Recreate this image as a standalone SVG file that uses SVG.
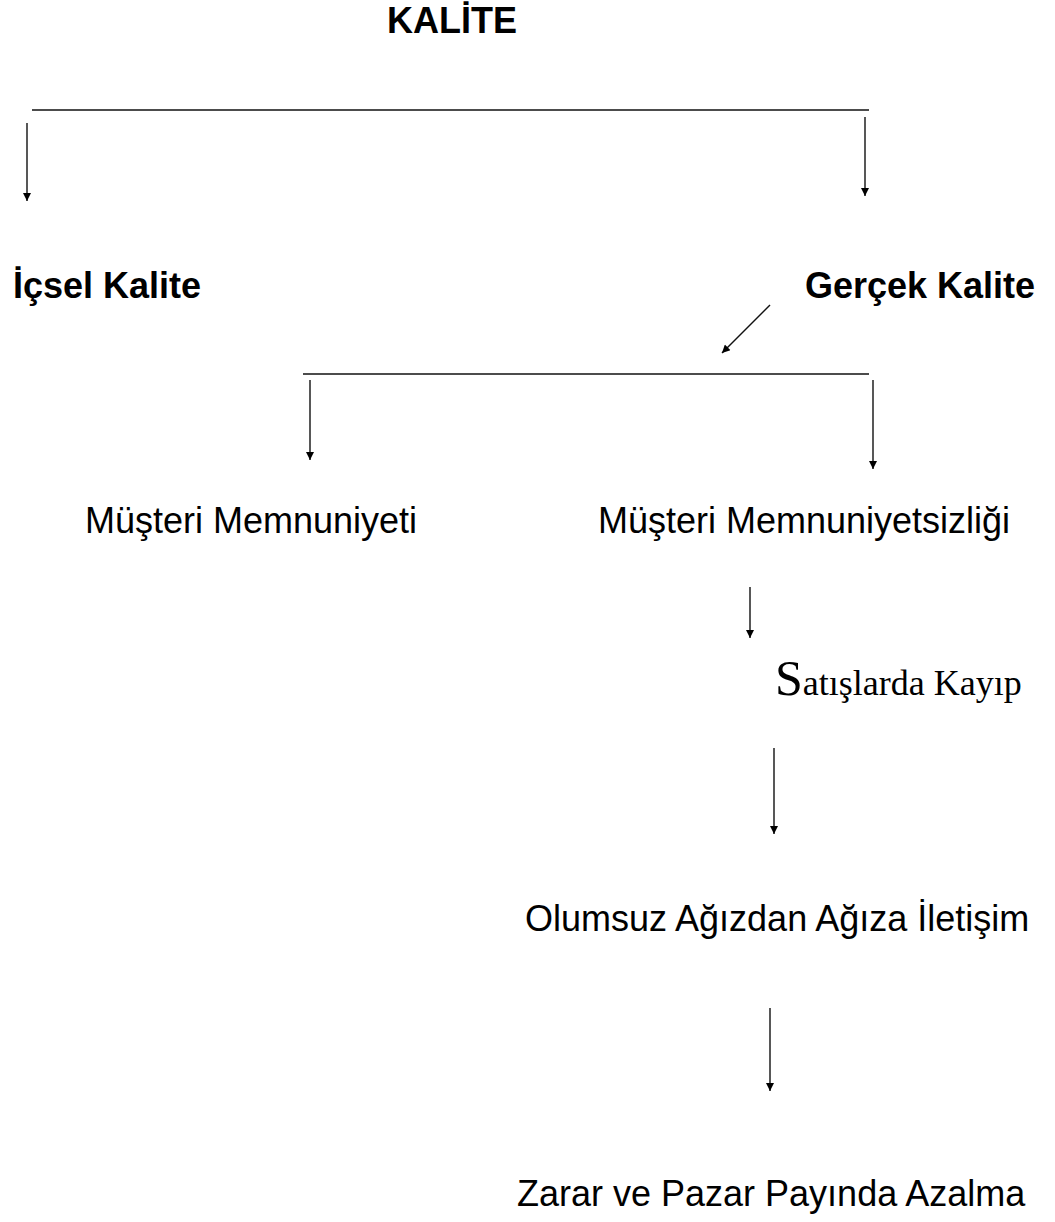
<svg xmlns="http://www.w3.org/2000/svg" width="1055" height="1222" viewBox="0 0 1055 1222">
  <style>
    .bold { font-family: "Liberation Sans", Arial, sans-serif; font-weight: bold; font-size: 36px; fill: #000; }
    .reg { font-family: "Liberation Sans", Arial, sans-serif; font-size: 36px; fill: #000; }
    .serif { font-family: "Liberation Serif", "Times New Roman", serif; fill: #000; }
    .ln { stroke: #111; stroke-width: 1.4; fill: none; }
    .arr { stroke: #111; stroke-width: 1.4; fill: none; marker-end: url(#head); }
  </style>
  <defs>
    <!-- small filled arrowhead shared by all connectors -->
    <marker id="head" viewBox="0 0 8 8" refX="8" refY="4" markerWidth="9" markerHeight="8" markerUnits="userSpaceOnUse" orient="auto">
      <path d="M0,0 L8,4 L0,8 z" fill="#000"/>
    </marker>
  </defs>
  <rect width="1055" height="1222" fill="#fff"/>

  <g id="kalite"><text class="bold" x="387" y="33">KALİTE</text></g>
  <g id="icsel-kalite"><text class="bold" x="13" y="298">İçsel Kalite</text></g>
  <g id="gercek-kalite"><text class="bold" x="805" y="298">Gerçek Kalite</text></g>
  <g id="musteri-memnuniyeti"><text class="reg" x="85" y="533">Müşteri Memnuniyeti</text></g>
  <g id="musteri-memnuniyetsizligi"><text class="reg" x="598" y="533">Müşteri Memnuniyetsizliği</text></g>
  <g id="satislarda-kayip"><text class="serif" x="775" y="695"><tspan font-size="50">S</tspan><tspan font-size="36">atışlarda Kayıp</tspan></text></g>
  <g id="olumsuz-iletisim"><text class="reg" x="525" y="931">Olumsuz Ağızdan Ağıza İletişim</text></g>
  <g id="zarar-azalma"><text class="reg" x="517" y="1206">Zarar ve Pazar Payında Azalma</text></g>

  <g id="connectors">
    <line class="ln" x1="32" y1="110" x2="869" y2="110"/>
    <line class="arr" x1="27" y1="123" x2="27" y2="201"/>
    <line class="arr" x1="865" y1="117" x2="865" y2="196"/>
    <line class="arr" x1="770" y1="305" x2="722" y2="353"/>
    <line class="ln" x1="303" y1="374" x2="869" y2="374"/>
    <line class="arr" x1="310" y1="380" x2="310" y2="460"/>
    <line class="arr" x1="873" y1="380" x2="873" y2="469"/>
    <line class="arr" x1="750" y1="587" x2="750" y2="638"/>
    <line class="arr" x1="774" y1="748" x2="774" y2="834"/>
    <line class="arr" x1="770" y1="1008" x2="770" y2="1091"/>
  </g>
</svg>
